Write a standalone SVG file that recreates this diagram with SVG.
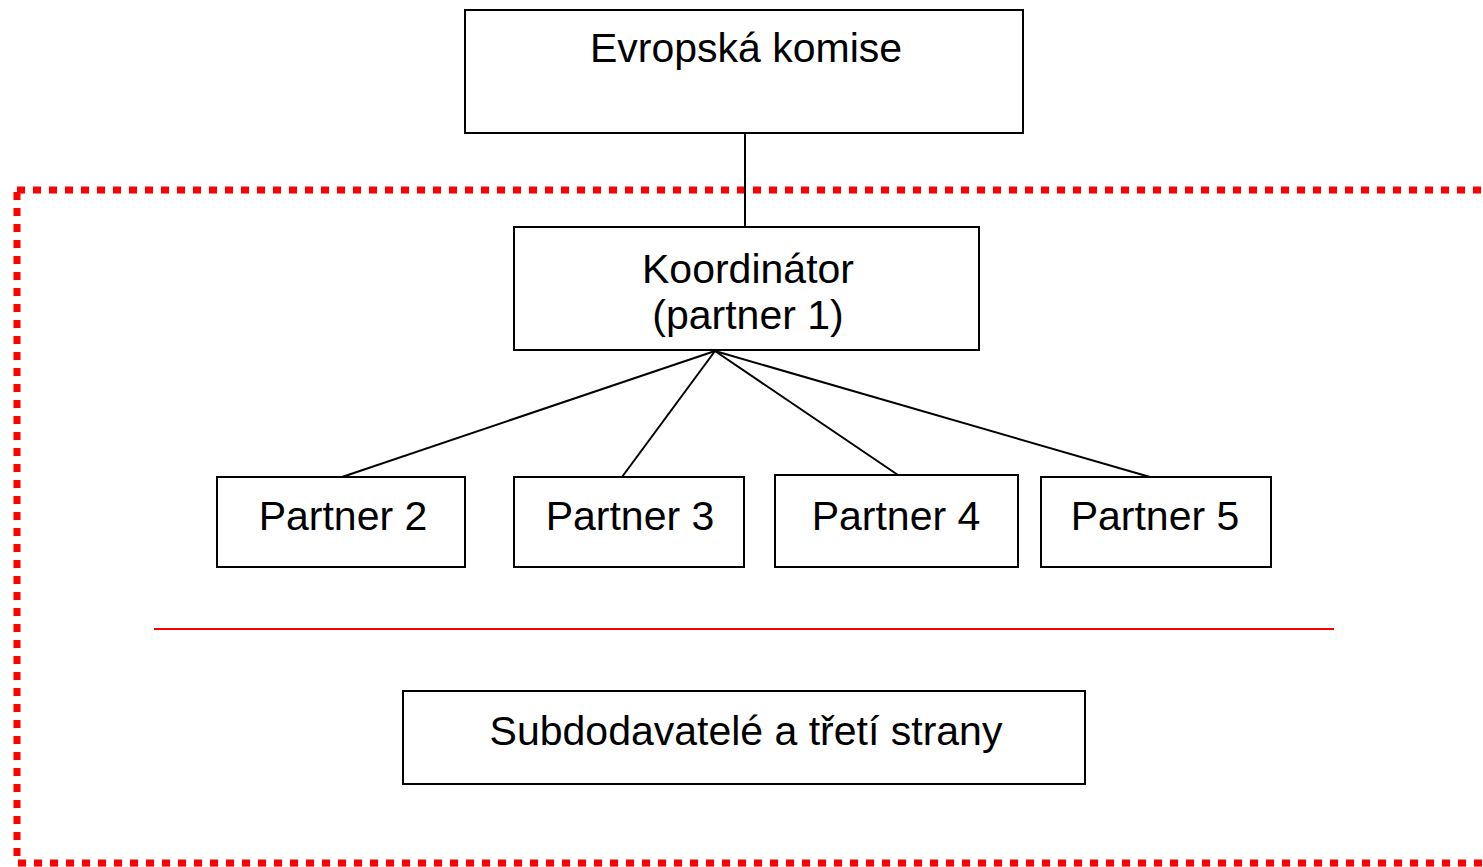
<svg xmlns="http://www.w3.org/2000/svg" width="1483" height="867" viewBox="0 0 1483 867">
<style>
.box{fill:#fff;stroke:#000;stroke-width:2}
.lbl{font-family:"Liberation Sans",Arial,sans-serif;font-size:41px;fill:#000;text-anchor:middle}
.con{stroke:#000;stroke-width:2;fill:none}
</style>
<rect x="0" y="0" width="1483" height="867" fill="#fff"/>
<rect id="boundary" x="17" y="190" width="1500" height="673" fill="none" stroke="#ff0000" stroke-width="7" stroke-dasharray="8 8"/>
<g id="connectors">
<line class="con" x1="745" y1="133" x2="745" y2="227"/>
<line class="con" x1="715" y1="351" x2="342" y2="477"/>
<line class="con" x1="715" y1="351" x2="622" y2="477"/>
<line class="con" x1="715" y1="351" x2="898" y2="475"/>
<line class="con" x1="715" y1="351" x2="1150" y2="477"/>
</g>
<line id="separator" x1="154" y1="629" x2="1334" y2="629" stroke="#ff0000" stroke-width="2"/>
<g id="evropska-komise"><rect class="box" x="465" y="10" width="558" height="123"/><text class="lbl" x="746" y="62">Evropská komise</text></g>
<g id="koordinator"><rect class="box" x="514" y="227" width="465" height="123"/><text class="lbl" x="748" y="283">Koordinátor</text><text class="lbl" x="748" y="329">(partner 1)</text></g>
<g id="partner2"><rect class="box" x="217" y="477" width="248" height="90"/><text class="lbl" x="343" y="530">Partner 2</text></g>
<g id="partner3"><rect class="box" x="514" y="477" width="230" height="90"/><text class="lbl" x="630" y="530">Partner 3</text></g>
<g id="partner4"><rect class="box" x="775" y="475" width="243" height="92"/><text class="lbl" x="896" y="530">Partner 4</text></g>
<g id="partner5"><rect class="box" x="1041" y="477" width="230" height="90"/><text class="lbl" x="1155" y="530">Partner 5</text></g>
<g id="subdodavatele"><rect class="box" x="403" y="691" width="682" height="93"/><text class="lbl" x="746" y="745">Subdodavatelé a třetí strany</text></g>
</svg>
